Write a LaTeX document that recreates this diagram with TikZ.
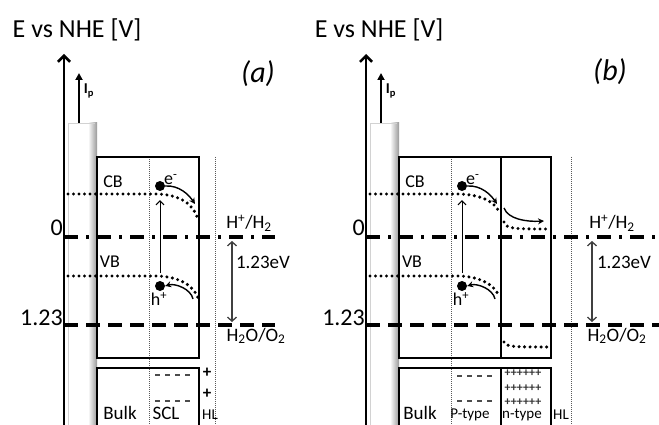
\documentclass[tikz,border=0pt]{standalone}
\usepackage{fontspec}
\setmainfont{Carlito}
\usetikzlibrary{positioning,arrows.meta}

\begin{document}
\begin{tikzpicture}[
        x=1pt, y=-1pt,
        box/.style={draw=black, line width=2.8pt},
        axisline/.style={line width=2.6pt, -{Straight Barb[length=6pt,width=12pt]}},
        iparrow/.style={line width=2.4pt, -{Triangle[length=7pt,width=7pt]}},
        band/.style={line width=3.4pt, dash pattern=on 0pt off 5.5pt, line cap=round},
        thindot/.style={draw=black!65, line width=1pt, dash pattern=on 1pt off 1pt},
        zeroline/.style={line width=3.4pt, dash pattern=on 14pt off 8pt on 3pt off 8pt},
        redox/.style={line width=3.4pt, dash pattern=on 14pt off 8pt},
        flow/.style={line width=1.4pt, -{Stealth[length=6pt,width=6pt]}},
        vert/.style={line width=1pt, -{Straight Barb[length=4pt,width=8pt]}},
        gap/.style={draw=black!75, line width=1.3pt, {Straight Barb[length=4pt,width=9pt]}-{Straight Barb[length=4pt,width=9pt]}},
        minus/.style={draw=black!70, line width=1.2pt, dash pattern=on 5pt off 5pt},
        plusrow/.style={font=\fontsize{12}{14}\selectfont\bfseries, inner sep=0pt, text=black!80},
        dot/.style={circle, fill=black, minimum size=10pt, inner sep=0pt},
        title/.style={font=\fontsize{26}{30}\selectfont, inner sep=0pt},
        tag/.style={font=\fontsize{30}{34}\selectfont\itshape, inner sep=0pt},
        tick/.style={font=\fontsize{24}{28}\selectfont, inner sep=0pt, anchor=east},
        lbl/.style={font=\fontsize{18}{21}\selectfont, inner sep=0pt},
        mid/.style={font=\fontsize{19}{22}\selectfont, inner sep=0pt},
        tiny/.style={font=\fontsize{15}{17}\selectfont, inner sep=0pt}
    ]
    \useasboundingbox (0,0) rectangle (659,425);

    % ---- panel (a)
    \begin{scope}
    \node[title] (titlea) at (77,30) {E vs NHE [V]};
    \node[tag] (taga) at (258,74) {(a)};
    \fill[white] (68,123) rectangle (97,425);
    \shade[left color=white, right color=gray!80] (88,123) rectangle (97,425);
    \draw[gray!35, line width=0.6pt] (68,425) -- (68,123) -- (95,123);
    \coordinate (bota) at (64,425);
    \coordinate (topa) at (64,54);
    \draw[axisline] (bota) -- (topa);
    \coordinate (ipa) at (79,123);
    \coordinate (iptopa) at (79,73);
    \draw[iparrow] (ipa) -- (iptopa);
    \node[tiny, font=\fontsize{15}{17}\selectfont\bfseries] (iplbla) at (89,91) {I\textsubscript{p}};
    \node[tick] (zeroa) at (63,228) {0};
    \node[tick] (onea) at (63,318) {1.23};
    \draw[thindot] (149,157) -- (149,425);
    \draw[thindot] (215,157) -- (215,425);
    \draw[box] (97,157) rectangle (199,358);
    \draw[box] (97,425) -- (97,368) -- (199,368) -- (199,425);
    \draw[zeroline] (64,237) -- (275,237);
    \draw[redox] (64,325) -- (275,325);
    \draw[band] (68,194) -- (158,194) .. controls (180,195) and (194,204) .. (198,220);
    \draw[band] (68,276) -- (158,276) .. controls (180,277) and (194,286) .. (198,298);
    \node[lbl] (cba) at (113,182) {CB};
    \node[lbl] (vba) at (110,262) {VB};
    \node[dot] (ea) at (160,186) {};
    \node[dot] (ha) at (160,286) {};
    \node[lbl, anchor=south west] (eaname) at (164,185) {e\textsuperscript{-}};
    \node[lbl, anchor=north] (haname) at (159,292) {h\textsuperscript{+}};
    \coordinate (va) at (160,273);
    \draw[vert, shorten >=9pt] (va) -- (ea.south);
    \coordinate (ta) at (195,204);
    \draw[flow] (ea.east) .. controls +(14,-1) and +(-6,-9) .. (ta);
    \coordinate (hsa) at (193,299);
    \draw[flow] (hsa) .. controls +(-2,-10) and +(10,-3) .. (ha.east);
    \coordinate (uppa) at (232,241);
    \coordinate (lowa) at (232,322);
    \draw[gap] (uppa) -- (lowa);
    \node[mid] (eva) at (263,262) {1.23eV};
    \node[mid] (hha) at (249,223) {H\textsuperscript{+}/H\textsubscript{2}};
    \node[mid] (ooa) at (256,336) {H\textsubscript{2}O/O\textsubscript{2}};
    \draw[minus] (155,375) -- (193,375);
    \draw[minus] (155,401) -- (193,401);
    \node[lbl, font=\fontsize{17}{20}\selectfont\bfseries] (pa1) at (207,373) {+};
    \node[lbl, font=\fontsize{17}{20}\selectfont\bfseries] (pa2) at (207,394) {+};
    \node[mid] (bulka) at (120,413) {Bulk};
    \node[mid] (scla) at (166,413) {SCL};
    \node[tiny] (hla) at (210,415) {HL};
    \end{scope}

    % ---- panel (b)
    \begin{scope}[xshift=302pt]
    \node[title] (titleb) at (77,30) {E vs NHE [V]};
    \node[tag] (tagb) at (308,72) {(b)};
    \fill[white] (68,123) rectangle (97,425);
    \shade[left color=white, right color=gray!80] (88,123) rectangle (97,425);
    \draw[gray!35, line width=0.6pt] (68,425) -- (68,123) -- (95,123);
    \coordinate (botb) at (64,425);
    \coordinate (topb) at (64,54);
    \draw[axisline] (botb) -- (topb);
    \coordinate (ipb) at (79,123);
    \coordinate (iptopb) at (79,73);
    \draw[iparrow] (ipb) -- (iptopb);
    \node[tiny, font=\fontsize{15}{17}\selectfont\bfseries] (iplblb) at (89,91) {I\textsubscript{p}};
    \node[tick] (zerob) at (63,228) {0};
    \node[tick] (oneb) at (63,318) {1.23};
    \draw[thindot] (149,157) -- (149,425);
    \draw[thindot] (269,157) -- (269,425);
    \draw[box] (97,157) rectangle (249,358);
    \draw[box] (199,157) -- (199,358);
    \draw[box] (97,425) -- (97,368) -- (249,368) -- (249,425);
    \draw[box] (199,368) -- (199,425);
    \draw[zeroline] (64,237) -- (357,237);
    \draw[redox] (64,325) -- (357,325);
    \draw[band] (68,194) -- (158,194) .. controls (180,195) and (194,202) .. (198,214);
    \draw[band] (68,276) -- (158,276) .. controls (180,277) and (194,286) .. (197,297);
    \draw[band] (202,222) .. controls (204,229) and (212,229) .. (248,229);
    \draw[band] (202,342) .. controls (204,347) and (212,347) .. (248,347);
    \node[lbl] (cbb) at (113,182) {CB};
    \node[lbl] (vbb) at (110,262) {VB};
    \node[dot] (eb) at (160,186) {};
    \node[dot] (hb) at (160,286) {};
    \node[lbl, anchor=south west] (ebname) at (164,185) {e\textsuperscript{-}};
    \node[lbl, anchor=north] (hbname) at (159,292) {h\textsuperscript{+}};
    \coordinate (vb) at (160,273);
    \draw[vert, shorten >=9pt] (vb) -- (eb.south);
    \coordinate (tb) at (195,204);
    \draw[flow] (eb.east) .. controls +(14,-1) and +(-6,-9) .. (tb);
    \coordinate (nsb) at (202,208);
    \coordinate (neb) at (242,221);
    \draw[flow] (nsb) .. controls (206,219) and (224,222) .. (neb);
    \coordinate (hsb) at (193,299);
    \draw[flow] (hsb) .. controls +(-2,-10) and +(10,-3) .. (hb.east);
    \coordinate (uppb) at (290,241);
    \coordinate (lowb) at (290,322);
    \draw[gap] (uppb) -- (lowb);
    \node[mid] (evb) at (322,262) {1.23eV};
    \node[mid] (hhb) at (310,223) {H\textsuperscript{+}/H\textsubscript{2}};
    \node[mid] (oob) at (315,336) {H\textsubscript{2}O/O\textsubscript{2}};
    \draw[minus] (155,376) -- (193,376);
    \draw[minus] (155,401) -- (193,401);
    \node[plusrow] (pb1) at (221,373) {++++++};
    \node[plusrow] (pb2) at (221,388) {++++++};
    \node[plusrow] (pb3) at (221,402) {++++++};
    \node[mid] (bulkb) at (118,413) {Bulk};
    \node[tiny] (ptb) at (168,415) {P-type};
    \node[tiny] (ntb) at (220,415) {n-type};
    \node[tiny] (hlb) at (259,415) {HL};
    \end{scope}
\end{tikzpicture}
\end{document}
